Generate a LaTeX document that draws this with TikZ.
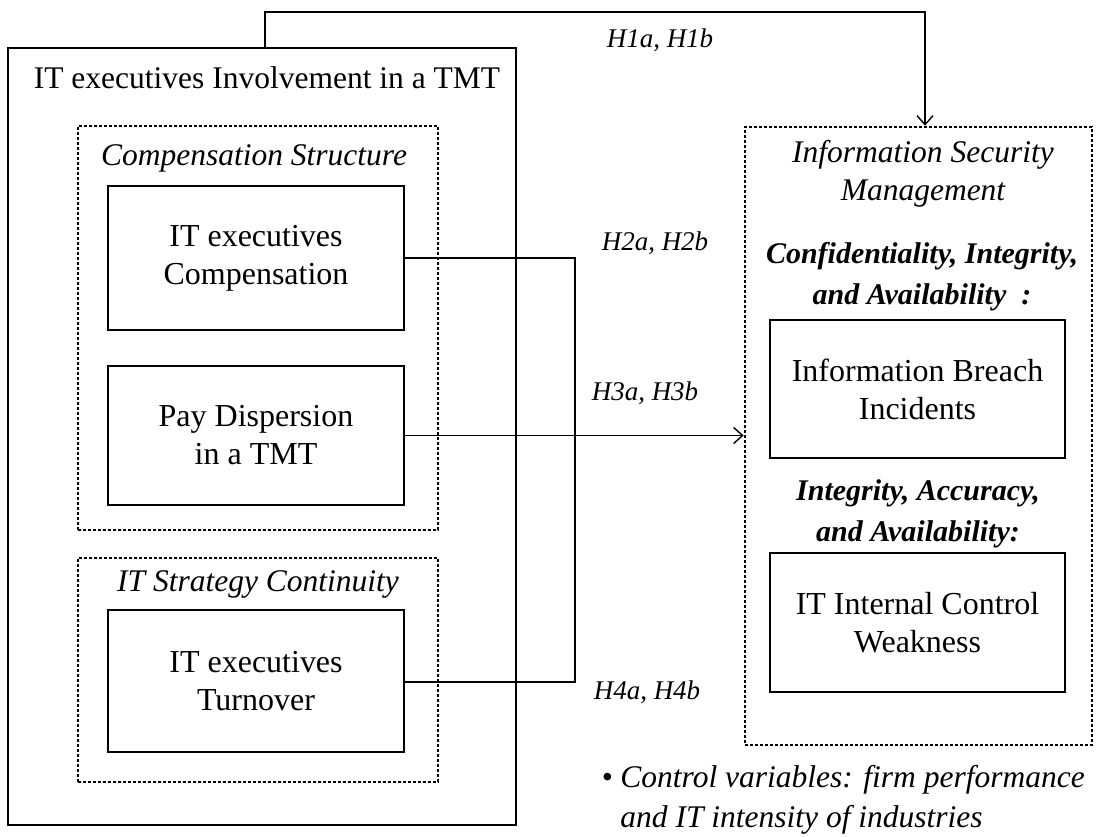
\documentclass[tikz,border=0pt]{standalone}
\usepackage{fontspec}
\setmainfont{Liberation Serif}
\usetikzlibrary{arrows.meta}
\usetikzlibrary{positioning}
\begin{document}
\begin{tikzpicture}[x=1pt, y=-1pt]
		% ------- style -------
		\tikzset{%
			frame/.style={draw, line width=2.6pt, inner sep=0pt},
			dotframe/.style={draw, line width=2.6pt, dash pattern=on 2.6pt off 2.4pt, inner sep=0pt},
			varbox/.style={draw, line width=2.6pt, align=center, inner sep=0pt,
				minimum width=296pt, font=\fontsize{32}{38}\selectfont},
			heading/.style={font=\fontsize{31.5}{38}\selectfont\itshape},
			dimension/.style={align=center, font=\fontsize{30}{41}\selectfont\bfseries\itshape},
			hyp/.style={font=\fontsize{27}{30}\selectfont\itshape},
			link/.style={line width=1.4pt},
			>={Straight Barb[length=9pt, width=16pt, line width=1.4pt]},
		}
		\useasboundingbox (0,0) rectangle (1106,836);
		
		% ------- left side -------
		\node[frame, minimum width=508pt, minimum height=777pt] (inv) at (262,436.5) {};
		\node[font=\fontsize{31.5}{38}\selectfont] (inv-label) at (267,78) {IT executives Involvement in a TMT};
		
		\node[dotframe, minimum width=360pt, minimum height=404pt] (comp) at (258,328) {};
		\node[heading] (comp-label) at (254,158) {Compensation Structure};
		\node[varbox, minimum height=144pt] (pay) at (256,258) {IT executives\\Compensation};
		\node[varbox, minimum height=139pt] (disp) at (256,435.5) {Pay Dispersion\\in a TMT};
		
		\node[dotframe, minimum width=360pt, minimum height=224pt] (cont) at (258,670) {};
		\node[heading] (cont-label) at (258,584) {IT Strategy Continuity};
		\node[varbox, minimum height=142pt] (turn) at (256,681) {IT executives\\Turnover};
		
		% ------- right side -------
		\node[heading, align=center, font=\fontsize{31.5}{38}\selectfont\itshape] (ism-label) at (923,174) {Information Security\\Management};
		\node[dotframe, minimum width=347pt, minimum height=618pt] (ism) at (918.5,436) {};
		\node[dimension] (cia) at (922,277) {Confidentiality, Integrity,\\and Availability\ \ :};
		\node[varbox, minimum width=295pt, minimum height=138pt] (breach) at (917.5,389) {Information Breach\\Incidents};
		\node[dimension] (iaa) at (918,513.5) {Integrity, Accuracy,\\and Availability:};
		\node[varbox, minimum width=295pt, minimum height=139pt] (weak) at (917.5,622.5) {IT Internal Control\\Weakness};
		
		% ------- connectors -------
		\coordinate (top) at (925,12);
		\coordinate (merge) at (575,682);
		\draw[link, ->] ([xshift=3pt]inv.north) |- (top) -- (top |- ism.north);
		\draw[link] (pay.east) -| (merge) -- (merge -| turn.east);
		\draw[link, ->] (disp.east) -- (disp.east -| ism.west);
		
		% ------- labels -------
		\node[hyp] (h1) at (660,40) {H1a, H1b};
		\node[hyp] (h2) at (655,243) {H2a, H2b};
		\node[hyp] (h3) at (645,393) {H3a, H3b};
		\node[hyp] (h4) at (647,692) {H4a, H4b};
		\node[anchor=west, align=left, font=\fontsize{31.5}{40}\selectfont\itshape] (note) at (598,800)
			{\textbullet\ Control variables: firm performance\\\phantom{\textbullet\ }and IT intensity of industries};
	\end{tikzpicture}
\end{document}
